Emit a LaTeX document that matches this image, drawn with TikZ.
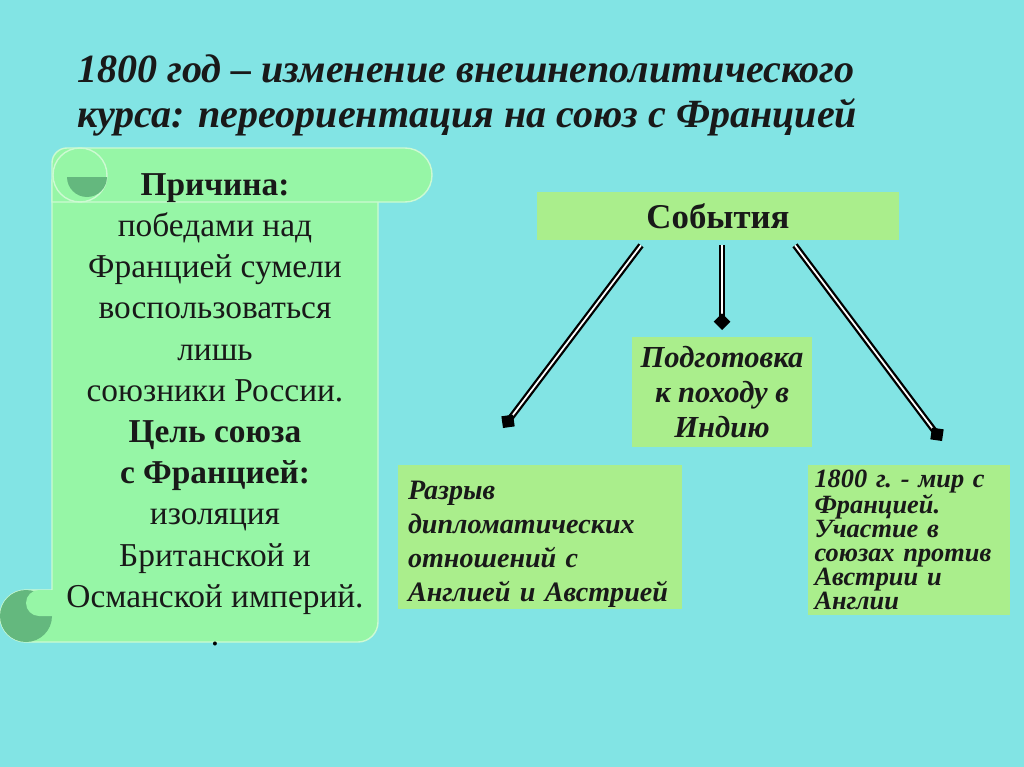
\documentclass[tikz,border=0pt]{standalone}
\usepackage{fontspec}
\setmainfont{Liberation Serif}
\usetikzlibrary{arrows.meta,calc,positioning}

\definecolor{sea}{RGB}{130,228,228}
\definecolor{scrollgreen}{RGB}{150,246,166}
\definecolor{scrollline}{RGB}{205,250,210}
\definecolor{curlgreen}{RGB}{100,184,126}
\definecolor{boxgreen}{RGB}{170,238,140}

\begin{document}
\begin{tikzpicture}[x=0.02cm,y=-0.02cm,>=Stealth,
  box/.style={fill=boxgreen, inner sep=0pt, text=black!90},
  scroll/.style={fill=scrollgreen, draw=scrollline, line width=0.8pt},
  link/.style={draw=black, line width=1.3pt, double=white, double distance=1pt,
    -{Diamond[length=9.5pt,width=9.5pt]}}]
  \def\fsz#1#2{\fontsize{#1}{#2}\selectfont}
  % background
  \fill[sea] (0,0) rectangle (1024,767);
  \useasboundingbox (0,0) rectangle (1024,767);
  % title
  \node[anchor=north west, align=left, inner sep=0pt, text=black!90,
    font=\fsz{22.8pt}{25.6pt}\bfseries\itshape] (title) at (77,54)
    {1800 год – изменение внешнеполитического\\курса: переориентация на союз с Францией};
  % scroll body and bottom curl
  \filldraw[scroll] (52,180) -- (52,590) -- (26,590) arc (270:90:26) -- (358,642)
    arc (90:0:20) -- (378,180) -- cycle;
  \fill[curlgreen] (26,616) circle (26);
  \fill[scrollgreen] (39,590) -- (53,590) -- (53,616) -- (39,616) arc (90:270:13);
  % top roll
  \filldraw[scroll] (52,202) -- (52,163) arc (180:270:15) -- (405,148)
    arc (-90:90:27) -- cycle;
  \draw[scrollline, line width=0.8pt] (80,175) circle (27);
  \fill[curlgreen] (67,177) arc (180:0:20) -- cycle;
  \node[anchor=north, align=center, inner sep=0pt, text=black!90,
    font=\fsz{19pt}{23.45pt}] (reason) at (215,173)
    {\textbf{Причина:}\\победами над\\Францией сумели\\воспользоваться\\лишь\\союзники России.\\
     \textbf{Цель союза}\\\textbf{с Францией:}\\изоляция\\Британской и\\Османской империй.};
  \node[font=\fsz{19pt}{23pt}, inner sep=0pt] (dot) at (215,644) {.};
  % events
  \node[box, minimum width=7.26cm, minimum height=0.96cm,
    font=\fsz{19.8pt}{22pt}\bfseries] (events) at (718,216) {События};
  \node[box, minimum width=3.6cm, minimum height=2.2cm, align=center,
    font=\fsz{17.4pt}{20pt}\bfseries\itshape] (india) at (722,392)
    {Подготовка\\к походу в\\Индию};
  \node[box, text width=5.28cm, minimum height=2.9cm, inner xsep=0.2cm, align=left,
    font=\fsz{16pt}{19.3pt}\bfseries\itshape] (rupture) at (540,537)
    {\rule{0pt}{19pt}Разрыв\\дипломатических\\отношений с\\Англией и Австрией};
  \node[box, text width=3.78cm, minimum height=3cm, inner xsep=0.13cm, align=left,
    font=\fsz{15pt}{13.7pt}\bfseries\itshape\frenchspacing] (peace) at (909,540)
    {1800 г. - мир с\\Францией.\\Участие в\\союзах против\\Австрии и\\Англии};
  % links
  \coordinate (endL) at (503,428);
  \coordinate (endM) at (722,330);
  \coordinate (endR) at (942,441);
  \draw[link] ($(events.south)+(-77,5)$) -- (endL);
  \draw[link] ($(events.south)+(4,5)$) -- (endM);
  \draw[link] ($(events.south)+(77,5)$) -- (endR);
\end{tikzpicture}
\end{document}
